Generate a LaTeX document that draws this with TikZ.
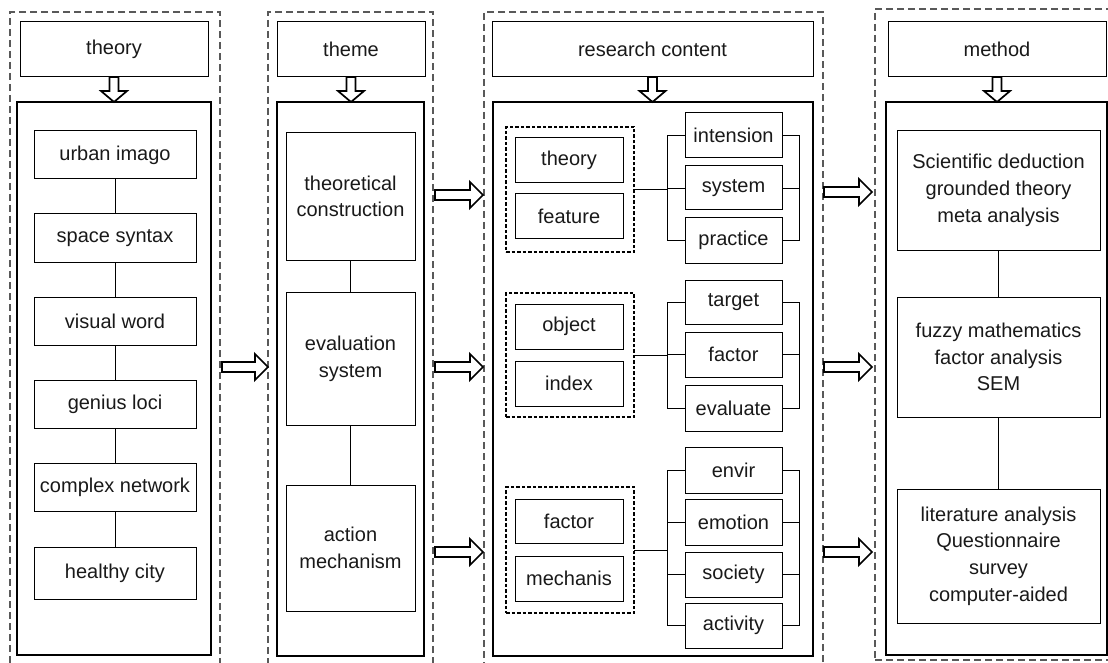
\documentclass[tikz,border=0pt]{standalone}
\usepackage{fontspec}
\setmainfont{Liberation Sans}
\usetikzlibrary{calc}
\tikzset{
  every node/.style={font=\fontsize{20}{26.7}\selectfont, align=center, inner sep=0pt, outer sep=0pt, text=black!90},
  bx/.style={draw, line width=1pt},
  bigbx/.style={draw, line width=1.6pt},
  coldash/.style={draw=black!65, line width=1.2pt, dash pattern=on 7pt off 4pt},
  grpdash/.style={draw, line width=1.4pt, dash pattern=on 3.5pt off 2pt},
  hollow/.style={draw, line width=1.7pt, fill=white, line join=miter},
  conn/.style={line width=0.9pt}
}
% box from x1..x2, y1..y2 (pixel coordinates, y downward)
\newcommand\bxat[7][bx]{\node[#1, minimum width={#4-#3}, minimum height={#6-#5}] (#2) at ({(#3+#4)/2},{(#5+#6)/2}) {#7};}
\newcommand\harrow[2]{\draw[hollow] let \p1=#1, \p2=#2 in (\x1,\y1+5pt) -- (\x2-13pt,\y1+5pt) -- (\x2-13pt,\y1+13pt) -- (\x2,\y1) -- (\x2-13pt,\y1-13pt) -- (\x2-13pt,\y1-5pt) -- (\x1,\y1-5pt) -- cycle;}
\newcommand\varrow[2]{\draw[hollow] let \p1=#1, \p2=#2 in (\x1-4.5pt,\y1) -- (\x1-4.5pt,\y2+11pt) -- (\x1-13pt,\y2+11pt) -- (\x1,\y2) -- (\x1+13pt,\y2+11pt) -- (\x1+4.5pt,\y2+11pt) -- (\x1+4.5pt,\y1) -- cycle;}
\begin{document}
\begin{tikzpicture}[x=1pt,y=-1pt]
\useasboundingbox (0,0) rectangle (1108,663);
% ---------- column outlines
\bxat[coldash]{d1}{10}{220}{12}{675}{}
\bxat[coldash]{d2}{268}{433}{12}{675}{}
\bxat[coldash]{d3}{484}{823}{12}{675}{}
\bxat[coldash]{d4}{875}{1114}{9}{660}{}
% ---------- headers
\bxat{h1}{20}{208}{22}{77}{theory}
\bxat{h2}{277}{425}{22}{77}{theme}
\bxat{h3}{492}{813}{22}{77}{research content}
\bxat{h4}{888}{1106}{22}{77}{method}
% ---------- inner boxes
\bxat[bigbx]{in1}{17}{211}{102}{655}{}
\bxat[bigbx]{in2}{277}{424}{102}{656}{}
\bxat[bigbx]{in3}{493}{813}{102}{656}{}
\bxat[bigbx]{in4}{886}{1107}{102}{655}{}
% ---------- down arrows
\varrow{(h1.south)}{(in1.north)}
\varrow{(h2.south)}{(in2.north)}
\varrow{(h3.south)}{(in3.north)}
\varrow{(h4.south)}{(in4.north)}
% ---------- column 1
\bxat{t1}{34}{196}{131}{179}{urban imago}
\bxat{t2}{34}{196}{214}{262}{space syntax}
\bxat{t3}{34}{196}{297}{345}{visual word}
\bxat{t4}{34}{196}{380}{428}{genius loci}
\bxat{t5}{34}{196}{463}{511}{complex network}
\bxat{t6}{34}{196}{547}{599}{healthy city}
\draw[conn] (t1) -- (t2);
\draw[conn] (t2) -- (t3);
\draw[conn] (t3) -- (t4);
\draw[conn] (t4) -- (t5);
\draw[conn] (t5) -- (t6);
% ---------- column 2
\bxat{tc}{286}{415}{133}{260}{theoretical\\construction}
\bxat{es}{286}{415}{292}{425}{evaluation\\system}
\bxat{am}{286}{415}{485}{611}{action\\mechanism}
\draw[conn] (tc) -- (es);
\draw[conn] (es) -- (am);
% ---------- column 3, group 1
\bxat[grpdash]{g1}{506}{634}{127}{252}{}
\bxat{r1a}{515}{623}{138}{183}{theory}
\bxat{r1b}{515}{623}{194}{238}{feature}
\bxat{s1a}{685}{782}{113}{158}{intension}
\bxat{s1b}{685}{782}{166}{210}{system}
\bxat{s1c}{685}{782}{218}{263}{practice}
\coordinate (k1) at (667,189.5);
\draw[conn] (g1.east) -- (k1);
\draw[conn] (s1a.west) -- ++(-18,0) |- (s1c.west);
\draw[conn] (s1b.west) -- ++(-18,0);
\draw[conn] (s1a.east) -- ++(17,0) |- (s1c.east);
\draw[conn] (s1b.east) -- ++(17,0);
% group 2
\bxat[grpdash]{g2}{506}{634}{293}{417}{}
\bxat{r2a}{515}{623}{304}{349}{object}
\bxat{r2b}{515}{623}{361}{406}{index}
\bxat{s2a}{685}{782}{280}{324}{target}
\bxat{s2b}{685}{782}{332}{377}{factor}
\bxat{s2c}{685}{782}{385}{431}{evaluate}
\coordinate (k2) at (667,355);
\draw[conn] (g2.east) -- (k2);
\draw[conn] (s2a.west) -- ++(-18,0) |- (s2c.west);
\draw[conn] (s2b.west) -- ++(-18,0);
\draw[conn] (s2a.east) -- ++(17,0) |- (s2c.east);
\draw[conn] (s2b.east) -- ++(17,0);
% group 3
\bxat[grpdash]{g3}{506}{634}{487}{613}{}
\bxat{r3a}{515}{623}{499}{543}{factor}
\bxat{r3b}{515}{623}{556}{601}{mechanis}
\bxat{s3a}{685}{782}{447}{493}{envir}
\bxat{s3b}{685}{782}{499}{545}{emotion}
\bxat{s3c}{685}{782}{552}{597}{society}
\bxat{s3d}{685}{782}{603}{648}{activity}
\coordinate (k3) at (667,550);
\draw[conn] (g3.east) -- (k3);
\draw[conn] (s3a.west) -- ++(-18,0) |- (s3d.west);
\draw[conn] (s3b.west) -- ++(-18,0);
\draw[conn] (s3c.west) -- ++(-18,0);
\draw[conn] (s3a.east) -- ++(17,0) |- (s3d.east);
\draw[conn] (s3b.east) -- ++(17,0);
\draw[conn] (s3c.east) -- ++(17,0);
% ---------- column 4
\bxat{m1}{897}{1100}{131}{250}{Scientific deduction\\grounded theory\\meta analysis}
\bxat{m2}{897}{1100}{297}{417}{fuzzy mathematics\\factor analysis\\SEM}
\bxat{m3}{897}{1100}{489}{623}{literature analysis\\Questionnaire\\survey\\computer-aided}
\draw[conn] (m1) -- (m2);
\draw[conn] (m2) -- (m3);
% ---------- horizontal hollow arrows
\coordinate (a1s) at (222,367); \coordinate (a1e) at (268,367);
\harrow{(a1s)}{(a1e)}
\coordinate (b1s) at (435,195); \coordinate (b1e) at (483,195);
\coordinate (b2s) at (435,367); \coordinate (b2e) at (483,367);
\coordinate (b3s) at (435,552); \coordinate (b3e) at (483,552);
\harrow{(b1s)}{(b1e)}
\harrow{(b2s)}{(b2e)}
\harrow{(b3s)}{(b3e)}
\coordinate (c1s) at (824,192); \coordinate (c1e) at (872,192);
\coordinate (c2s) at (824,367); \coordinate (c2e) at (872,367);
\coordinate (c3s) at (824,552); \coordinate (c3e) at (872,552);
\harrow{(c1s)}{(c1e)}
\harrow{(c2s)}{(c2e)}
\harrow{(c3s)}{(c3e)}
\end{tikzpicture}
\end{document}
